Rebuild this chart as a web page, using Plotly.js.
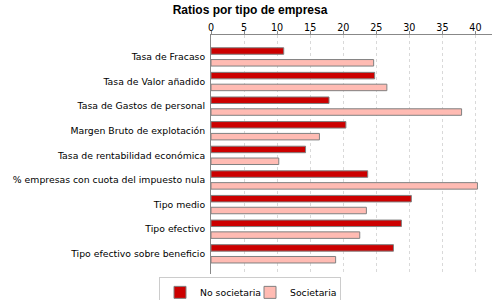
<!DOCTYPE html>
<html>
<head>
<meta charset="utf-8">
<script src="https://cdn.plot.ly/plotly-3.0.1.min.js"></script>
<style>
  body { margin: 0; background: #fff; }
  #chart { width: 500px; height: 300px; }
</style>
</head>
<body>
<div id="chart"></div>
<script>
// values
const categories = ["Tasa de Fracaso",
		    "Tasa de Valor añadido",
		    "Tasa de Gastos de personal",
		    "Margen Bruto de explotación",
		    "Tasa de rentabilidad económica",
		    "% empresas con cuota del impuesto nula",
		    "Tipo medio",
		    "Tipo efectivo",
		    "Tipo efectivo sobre beneficio"];

const noSocietaria = [11.0, 24.75, 17.85, 20.4, 14.3, 23.7, 30.3, 28.8, 27.6];
const societaria   = [24.6, 26.6, 37.9, 16.4, 10.25, 40.3, 23.5, 22.5, 18.85];

const seriesNames = ["No societaria", "Societaria"];
const xTicks = [0, 5, 10, 15, 20, 25, 30, 35, 40];

const FONT = "DejaVu Sans";

function barTrace(name, values, colour)
{
    return { type : "bar",
	     orientation : "h",
	     name : name,
	     x : values,
	     y : categories,
	     marker : { color : colour,
			line : { color : "#808080", width : 1 } },
	     hoverinfo : "x+name" };
}

const data = [ barTrace(seriesNames[0], noSocietaria, "#cc0000"),
	       barTrace(seriesNames[1], societaria, "#ffbbb3") ];

// plot area spans x 211..492, so the page centre (250) in paper units
const legendX = (250 - 211) / (500 - 211 - 8);

const layout = {
    width : 500,
    height : 300,
    paper_bgcolor : "#ffffff",
    plot_bgcolor : "#ffffff",
    margin : { l : 211, r : 8, t : 35, b : 26, pad : 0, autoexpand : false },
    font : { family : FONT, size : 9.3, color : "#000" },
    title : { text : "Ratios por tipo de empresa",
	      font : { family : "Liberation Sans", size : 12, weight : "bold", color : "#000" },
	      x : 0.5, y : 0.966, yanchor : "middle" },
    barmode : "group",
    bargap : 0.04,
    bargroupgap : 0.45,
    xaxis : { side : "top",
	      range : [0, 42.5],
	      tickvals : xTicks,
	      ticks : "",
	      ticklabelstandoff : -1,
	      // tick marks drawn as minor ticks so the labels sit close to the line
	      minor : { tickvals : xTicks, ticks : "outside", ticklen : 3,
			tickcolor : "#888", showgrid : false },
	      showline : true, linecolor : "#888", linewidth : 1,
	      showgrid : true, gridcolor : "#d9d9d9", griddash : "3px,3px",
	      zeroline : false,
	      automargin : false,
	      tickfont : { family : FONT, size : 9.6 } },
    yaxis : { range : [8.82, -0.89],
	      showline : true, linecolor : "#888", linewidth : 1,
	      showgrid : false,
	      ticks : "",
	      ticklabelstandoff : 3,
	      automargin : false,
	      tickfont : { family : FONT, size : 9.3 } },
    showlegend : true,
    legend : { orientation : "h",
	       x : legendX, xanchor : "center",
	       y : -0.012, yanchor : "top",
	       bordercolor : "#cccccc", borderwidth : 1,
	       itemwidth : 30,
	       entrywidth : 45,
	       font : { family : FONT, size : 9.3 } }
};

Plotly.newPlot("chart", data, layout, { staticPlot : true });
</script>
</body>
</html>
